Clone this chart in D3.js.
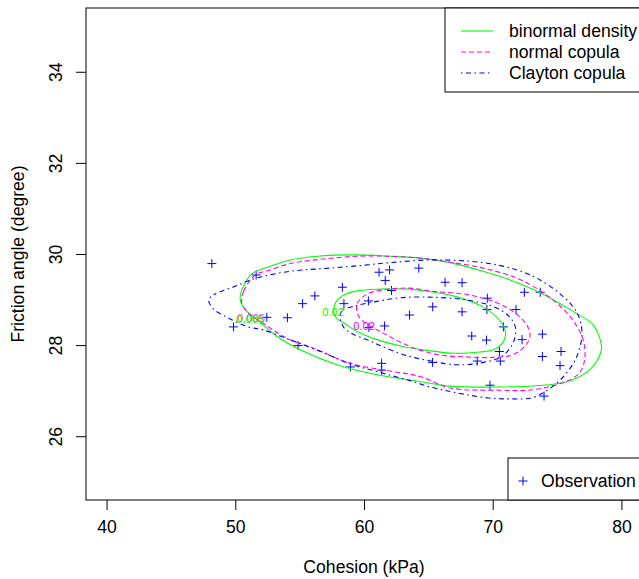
<!DOCTYPE html>
<html lang="en">
<head>
  <meta charset="UTF-8">
  <title>Cohesion vs friction angle – density contours</title>
  <script src="https://d3js.org/d3.v7.min.js"></script>
  <style>
    body { margin: 0; background: #fff; }
    svg { display: block; font-family: 'Liberation Sans', Arial, sans-serif; }
  </style>
</head>
<body>
  <svg id="chart" width="639" height="579"></svg>

  <script>
    // axis limits (R extends them by 4% on each side)
    const xlim = [40, 80];
    const ylim = [25, 35];
    const xTicks = [40, 50, 60, 70, 80];
    const yTicks = [26, 28, 30, 32, 34];

    // observations (cohesion kPa, friction angle degree)
    const obsCohesion = [48.18, 51.62, 49.86, 52.45, 54.05, 55.23, 56.18, 54.88, 58.32, 58.44,
      60.34, 61.17, 61.99, 61.65, 62.14, 60.38, 61.60, 63.54, 58.94, 61.37,
      61.37, 64.26, 66.30, 67.62, 69.58, 65.34, 67.62, 69.55, 70.83, 68.37,
      69.52, 70.52, 70.59, 68.80, 65.33, 69.79, 72.46, 73.69, 71.81, 72.28,
      73.86, 73.86, 75.31, 75.23, 73.99];
    const obsFriction = [29.79, 29.54, 28.40, 28.61, 28.60, 28.91, 29.08, 27.99, 29.27, 28.91,
      28.97, 29.60, 29.65, 29.42, 29.20, 28.39, 28.42, 28.66, 27.52, 27.60,
      27.45, 29.69, 29.38, 29.37, 29.03, 28.84, 28.73, 28.78, 28.40, 28.20,
      28.11, 27.86, 27.65, 27.65, 27.62, 27.12, 29.16, 29.16, 28.78, 28.12,
      28.24, 27.75, 27.86, 27.55, 26.88];

    // contour lines, [cohesion, friction]
    const binormal005 = [[50.38,29.00],[50.69,29.33],[51.31,29.57],[52.71,29.73],[54.26,29.87],
      [56.36,29.95],[59.15,29.98],[62.03,29.95],[64.36,29.91],[66.69,29.81],[69.25,29.62],
      [71.35,29.43],[73.68,29.15],[76.24,28.74],[77.79,28.45],[78.45,27.99],[78.34,27.79],
      [77.68,27.50],[76.24,27.24],[74.69,27.14],[70.57,27.08],[66.69,27.10],[64.36,27.20],
      [61.02,27.35],[57.91,27.57],[55.04,27.90],[53.25,28.19],[51.70,28.56],[50.77,28.78]];
    const binormal02 = [[57.64,28.76],[57.83,28.95],[58.30,29.08],[59.46,29.19],[61.25,29.23],
      [63.58,29.23],[64.75,29.19],[67.08,29.07],[69.17,28.85],[70.42,28.58],[70.96,28.34],
      [70.96,28.16],[70.65,28.01],[70.10,27.90],[69.02,27.85],[67.08,27.82],[64.75,27.89],
      [63.04,27.97],[61.02,28.12],[59.46,28.30],[58.53,28.47],[57.83,28.60]];
    const normal005 = [[50.49,28.95],[50.65,29.18],[51.54,29.54],[52.71,29.65],[54.26,29.79],
      [56.82,29.89],[59.46,29.95],[62.03,29.95],[64.36,29.91],[66.69,29.82],[69.25,29.69],
      [71.89,29.47],[73.91,29.15],[75.77,28.71],[76.94,28.19],[77.17,27.76],[76.78,27.40],
      [75.77,27.21],[73.13,27.02],[70.57,27.01],[66.69,27.06],[64.36,27.31],[62.03,27.43],
      [58.92,27.60],[56.36,27.90],[54.03,28.15],[52.16,28.48],[50.92,28.73]];
    const normal02 = [[59.46,28.73],[59.46,28.91],[59.85,29.04],[60.47,29.15],[62.03,29.23],
      [63.58,29.25],[65.37,29.18],[68.01,29.11],[70.03,28.96],[71.58,28.74],[72.63,28.45],
      [72.90,28.20],[72.51,27.98],[71.58,27.79],[70.03,27.73],[68.01,27.74],[65.76,27.79],
      [63.58,27.97],[61.25,28.30],[60.32,28.45],[59.70,28.58]];
    const clayton005 = [[47.93,29.00],[48.43,29.12],[49.99,29.29],[51.62,29.47],[54.26,29.62],
      [56.82,29.68],[59.46,29.74],[62.03,29.81],[65.37,29.87],[69.25,29.81],[71.89,29.65],
      [73.68,29.43],[75.46,29.07],[76.55,28.71],[76.94,28.27],[76.55,27.76],[75.77,27.40],
      [74.69,27.10],[73.13,26.85],[71.35,26.82],[69.64,26.84],[67.08,26.96],[65.29,27.07],
      [63.58,27.22],[61.25,27.40],[58.92,27.59],[56.36,27.89],[54.03,28.14],[52.09,28.34],
      [51.00,28.40],[49.44,28.60],[48.28,28.80]];
    const clayton02 = [[58.14,28.65],[58.38,28.78],[58.92,28.83],[59.54,28.88],[61.02,28.96],
      [62.80,29.04],[65.37,29.05],[68.01,28.99],[70.03,28.85],[71.27,28.63],[71.77,28.38],
      [71.66,28.10],[71.19,27.88],[70.57,27.73],[68.86,27.60],[67.08,27.57],[65.21,27.65],
      [63.19,27.78],[61.25,27.99],[60.24,28.12],[59.08,28.25],[58.45,28.38],[58.22,28.51]];

    const contourLabels = [
      { text: "0.005", c: 51.15, f: 28.57, color: "#00ff00", op: 1 },
      { text: "0.005", c: 51.23, f: 28.59, color: "#c050c0", op: 0.8 },
      { text: "0.02", c: 57.60, f: 28.73, color: "#00ff00", op: 1 },
      { text: "0.02", c: 60.01, f: 28.43, color: "#ff00ff", op: 1 }
    ];

    const legendNames = ["binormal density", "normal copula", "Clayton copula"];
    const legendColors = ["#00ff00", "#ff00ff", "#0000ff"];
    const legendDashes = [null, "5,3", "1.5,3.5,5,3.5"];

    const series = [
      { lines: [binormal005, binormal02], color: legendColors[0], dash: legendDashes[0] },
      { lines: [normal005, normal02], color: legendColors[1], dash: legendDashes[1] },
      { lines: [clayton005, clayton02], color: legendColors[2], dash: legendDashes[2] }
    ];

    const fontSize = 17.6;
    const plot = { left: 86, top: 8, right: 642, bottom: 500 };

    const pad = (l) => [l[0] - 0.04 * (l[1] - l[0]), l[1] + 0.04 * (l[1] - l[0])];
    const x = d3.scaleLinear().domain(pad(xlim)).range([plot.left, plot.right]);
    const y = d3.scaleLinear().domain(pad(ylim)).range([plot.bottom, plot.top]);

    const svg = d3.select("#chart");

    svg.append("defs").append("clipPath").attr("id", "plotclip")
      .append("rect")
      .attr("x", plot.left).attr("y", plot.top)
      .attr("width", plot.right - plot.left).attr("height", plot.bottom - plot.top);

    const g = svg.append("g").attr("clip-path", "url(#plotclip)");

    // observations
    const pts = obsCohesion.map((c, i) => [c, obsFriction[i]]);
    const plus = (px, py, r) => `M${px - r},${py}H${px + r}M${px},${py - r}V${py + r}`;
    g.append("path")
      .attr("d", pts.map(p => plus(x(p[0]), y(p[1]), 4.5)).join(""))
      .attr("stroke", "#0000ff")
      .attr("stroke-width", 1)
      .attr("fill", "none");

    // contours
    const line = d3.line()
      .x(d => x(d[0]))
      .y(d => y(d[1]))
      .curve(d3.curveCatmullRomClosed.alpha(0.5));

    series.forEach(s => {
      g.append("g")
        .selectAll("path")
        .data(s.lines)
        .join("path")
        .attr("d", line)
        .attr("fill", "none")
        .attr("stroke", s.color)
        .attr("stroke-width", 1.1)
        .attr("stroke-dasharray", s.dash);
    });

    g.append("g")
      .selectAll("text")
      .data(contourLabels)
      .join("text")
      .attr("x", d => x(d.c))
      .attr("y", d => y(d.f))
      .attr("text-anchor", "middle")
      .attr("dominant-baseline", "central")
      .attr("fill", d => d.color)
      .attr("fill-opacity", d => d.op)
      .style("font-size", "11.2px")
      .text(d => d.text);

    // box
    svg.append("rect")
      .attr("x", plot.left).attr("y", plot.top)
      .attr("width", plot.right - plot.left).attr("height", plot.bottom - plot.top)
      .attr("fill", "none").attr("stroke", "#000").attr("stroke-width", 1);

    // axes
    const xAxis = svg.append("g")
      .attr("transform", `translate(0,${plot.bottom})`)
      .call(d3.axisBottom(x).tickValues(xTicks).tickSize(10).tickPadding(11).tickFormat(d3.format("d")));
    const yAxis = svg.append("g")
      .attr("transform", `translate(${plot.left},0)`)
      .call(d3.axisLeft(y).tickValues(yTicks).tickSize(10).tickFormat(d3.format("d")));

    [xAxis, yAxis].forEach(a => {
      a.select(".domain").remove();
      a.selectAll(".tick line").attr("stroke", "#000");
      a.selectAll("text")
        .attr("fill", "#000")
        .style("font-size", fontSize + "px")
        .style("font-family", "'Liberation Sans', Arial, sans-serif");
    });

    yAxis.selectAll("text")
      .attr("transform", "rotate(-90)")
      .attr("x", 0)
      .attr("y", -30)
      .attr("dy", null)
      .attr("text-anchor", "middle")
      .attr("dominant-baseline", "central");

    svg.append("text")
      .attr("x", (plot.left + plot.right) / 2)
      .attr("y", 567)
      .attr("text-anchor", "middle")
      .attr("dominant-baseline", "central")
      .style("font-size", fontSize + "px")
      .text("Cohesion (kPa)");

    svg.append("text")
      .attr("transform", `translate(18,${(plot.top + plot.bottom) / 2}) rotate(-90)`)
      .attr("text-anchor", "middle")
      .attr("dominant-baseline", "central")
      .style("font-size", fontSize + "px")
      .text("Friction angle (degree)");

    // legend: contour types
    const rowH = 21;
    const leg1 = svg.append("g").attr("transform", `translate(${plot.right - 197},${plot.top})`);
    leg1.append("rect")
      .attr("width", 197).attr("height", rowH * (legendNames.length + 1))
      .attr("fill", "#fff").attr("stroke", "#000");
    legendNames.forEach((name, i) => {
      const ry = rowH * (i + 1) + 2;
      leg1.append("line")
        .attr("x1", 16).attr("x2", 48).attr("y1", ry).attr("y2", ry)
        .attr("stroke", legendColors[i]).attr("stroke-width", 1.1)
        .attr("stroke-dasharray", legendDashes[i]);
      leg1.append("text")
        .attr("x", 64).attr("y", ry)
        .attr("dominant-baseline", "central")
        .style("font-size", fontSize + "px")
        .text(name);
    });

    // legend: observations
    const leg2 = svg.append("g").attr("transform", `translate(${plot.right - 134},${plot.bottom - 2 * rowH})`);
    leg2.append("rect")
      .attr("width", 134).attr("height", 2 * rowH)
      .attr("fill", "#fff").attr("stroke", "#000");
    leg2.append("path")
      .attr("d", plus(15, rowH + 2, 4.5))
      .attr("stroke", "#0000ff").attr("fill", "none");
    leg2.append("text")
      .attr("x", 33).attr("y", rowH + 2)
      .attr("dominant-baseline", "central")
      .style("font-size", fontSize + "px")
      .text("Observation");
  </script>
</body>
</html>
